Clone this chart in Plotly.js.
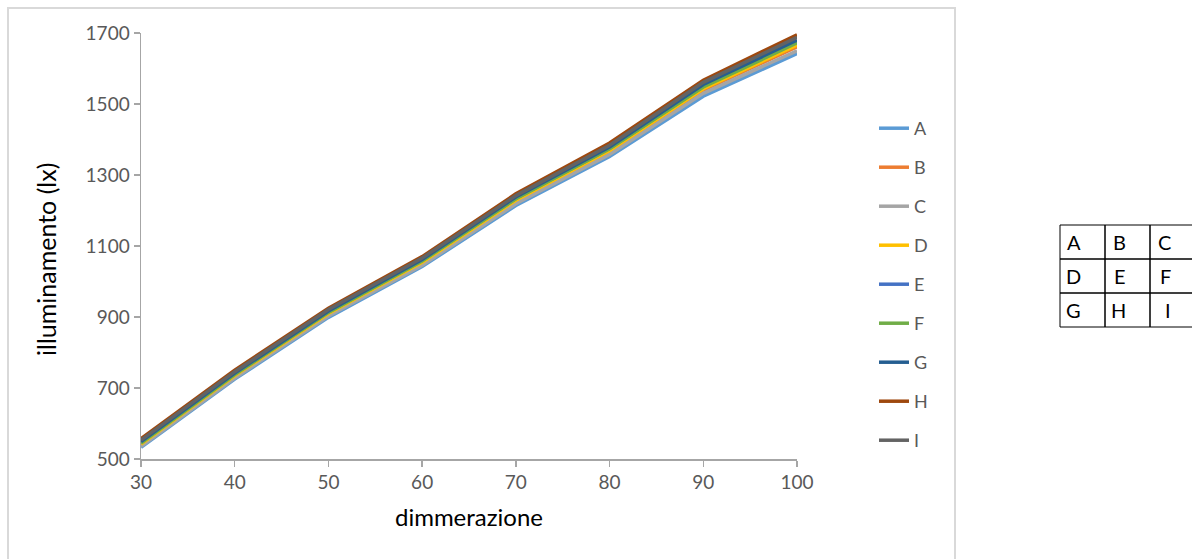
<!DOCTYPE html>
<html>
<head>
<meta charset="utf-8">
<script src="https://cdn.plot.ly/plotly-3.0.1.min.js"></script>
<style>html,body{margin:0;padding:0;background:#fff;}#chart{width:1192px;height:559px;}</style>
</head>
<body>
<div id="chart"></div>
<script>
const dimmerazione = [30, 40, 50, 60, 70, 80, 90, 100];
const seriesNames = ["A", "B", "C", "D", "E", "F", "G", "H", "I"];
const A = [533, 725, 899, 1042, 1214, 1352, 1522, 1642];
const B = [540, 733, 908, 1052, 1226, 1366, 1539, 1661];
const C = [536, 728, 903, 1046, 1219, 1358, 1530, 1650];
const D = [542, 735, 910, 1054, 1229, 1369, 1543, 1666];
const E = [546, 739, 914, 1059, 1234, 1375, 1550, 1675];
const F = [545, 738, 913, 1058, 1233, 1374, 1548, 1672];
const G = [549, 742, 917, 1062, 1238, 1379, 1555, 1680];
const H = [557, 750, 925, 1070, 1247, 1390, 1567, 1695];
const I = [553, 746, 921, 1066, 1242, 1384, 1561, 1688];
const seriesValues = [A, B, C, D, E, F, G, H, I];
const colors = ["#5B9BD5", "#ED7D31", "#A5A5A5", "#FFC000", "#4472C4", "#70AD47", "#255E91", "#9E480E", "#636363"];
const tableCells = [["A", "B", "C"], ["D", "E", "F"], ["G", "H", "I"]];
const yTitle = "illuminamento (lx)";
const xTitle = "dimmerazione";

const traces = seriesNames.map((n, i) => ({
  x: dimmerazione, y: seriesValues[i], name: n, type: "scatter", mode: "lines",
  legendgroup: n, line: {color: colors[i], width: 3.5}
}));

// geometry helpers (pixel -> paper)
const L = 141, R = 797, T = 33, Bm = 459;
const px = v => (v - L) / (R - L);
const py = v => (Bm - v) / (Bm - T);

const shapes = [];
const annotations = [];
// chart border
shapes.push({type: "rect", xref: "paper", yref: "paper", x0: px(8), x1: px(955), y0: py(8), y1: py(580),
  line: {color: "#d9d9d9", width: 2}, fillcolor: "rgba(0,0,0,0)", layer: "below"});
// y axis title
annotations.push({xref: "paper", yref: "paper", x: px(46), y: py(260), text: yTitle, textangle: -90, showarrow: false,
  xanchor: "center", yanchor: "middle", font: {family: "Lato, sans-serif", size: 25, color: "#000"}});
// table
const tx = [1060, 1105, 1150, 1195], ty = [225, 259, 293, 327];
for (let r = 0; r < 3; r++) {
  for (let c = 0; c < 3; c++) {
    shapes.push({type: "rect", xref: "paper", yref: "paper", x0: px(tx[c]), x1: px(tx[c + 1]), y0: py(ty[r]), y1: py(ty[r + 1]),
      line: {color: "#000", width: 1}});
    annotations.push({xref: "paper", yref: "paper", x: px((tx[c] + tx[c + 1]) / 2), y: py((ty[r] + ty[r + 1]) / 2),
      text: tableCells[r][c], showarrow: false, font: {family: "Lato, sans-serif", size: 20, color: "#000"}});
  }
}

const layout = {
  width: 1192, height: 559,
  margin: {l: L, r: 1192 - R, t: T, b: 559 - Bm, pad: 0},
  paper_bgcolor: "#fff", plot_bgcolor: "#fff",
  showlegend: true,
  legend: {x: px(874), y: py(110), xanchor: "left", yanchor: "top", traceorder: "grouped", tracegroupgap: 12.6,
    font: {family: "Lato, sans-serif", size: 18, color: "#595959"}, bgcolor: "rgba(0,0,0,0)", borderwidth: 0},
  xaxis: {range: [30, 100], dtick: 10, tick0: 30, showgrid: false, zeroline: false, showline: true, linecolor: "#a6a6a6", linewidth: 1.5,
    ticks: "outside", ticklen: 6, tickcolor: "#a6a6a6", tickwidth: 1.5,
    tickfont: {family: "Lato, sans-serif", size: 19, color: "#595959"},
    title: {text: xTitle, standoff: 17, font: {family: "Lato, sans-serif", size: 24, color: "#000"}}},
  yaxis: {range: [500, 1700], dtick: 200, tick0: 500, showgrid: false, zeroline: false, showline: true, linecolor: "#a6a6a6", linewidth: 1.5,
    ticks: "outside", ticklen: 6, tickcolor: "#a6a6a6", tickwidth: 1.5,
    tickfont: {family: "Lato, sans-serif", size: 19, color: "#595959"}},
  shapes: shapes, annotations: annotations
};

Plotly.newPlot("chart", traces, layout, {displayModeBar: false, staticPlot: true});
</script>
</body>
</html>
